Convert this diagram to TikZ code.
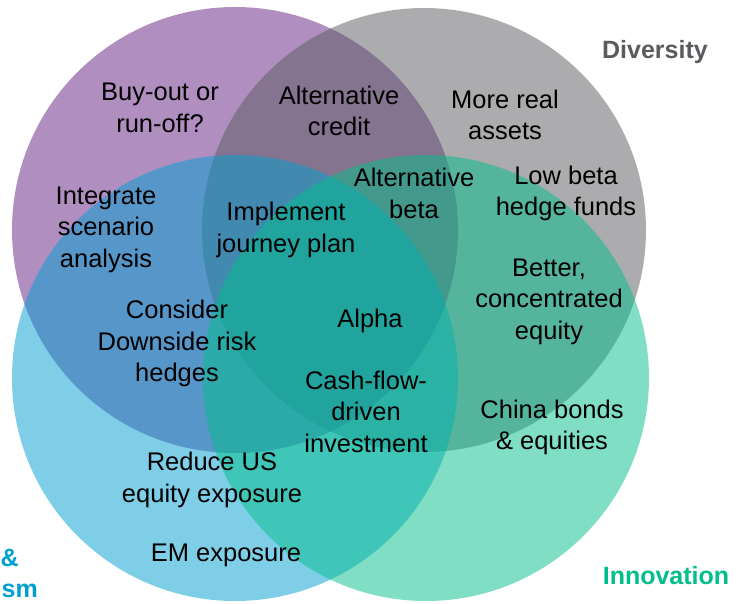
\documentclass[tikz,border=0pt]{standalone}
\usepackage{fontspec}
\setmainfont{Liberation Sans}
\definecolor{cpurple}{HTML}{631F83}
\definecolor{cgray}{HTML}{5B5B5F}
\definecolor{cblue}{HTML}{009FD1}
\definecolor{cgreen}{HTML}{00BF8B}
\tikzset{
  venn/.style={fill opacity=0.5, draw=none},
  txt/.style={align=center, inner sep=0pt, font=\fontsize{25.5}{31.5}\selectfont, text=black},
  lbl/.style={inner sep=0pt, font=\fontsize{25}{31}\selectfont\bfseries}
}
\begin{document}
\begin{tikzpicture}[x=1pt,y=-1pt]
\useasboundingbox (0,0) rectangle (747,603);
\fill[white] (0,0) rectangle (747,603);
\fill[venn, cpurple] (235,230) circle (223);
\fill[venn, cgray] (424,230) circle (222);
\fill[venn, cblue] (235,378) circle (223);
\fill[venn, cgreen] (426,378) circle (223);

\node[txt] (buyout) at (160,108) {Buy-out or\\run-off?};
\node[txt] (altcredit) at (339,111) {Alternative\\credit};
\node[txt] (realassets) at (505,115) {More real\\assets};
\node[txt] (altbeta) at (414,193.5) {Alternative\\beta};
\node[txt] (lowbeta) at (566,193.5) {Low beta\\hedge funds};
\node[txt] (integrate) at (106,229.5) {Integrate\\scenario\\analysis};
\node[txt] (journey) at (286,230) {Implement\\journey plan};
\node[txt] (better) at (549,301.5) {Better,\\concentrated\\equity};
\node[txt] (consider) at (177,343.5) {Consider\\Downside risk\\hedges};
\node[txt] (alpha) at (370,320.5) {Alpha};
\node[txt] (cashflow) at (366,411.5) {Cash-flow-\\driven\\investment};
\node[txt] (china) at (552,427.5) {China bonds\\\& equities};
\node[txt] (reduce) at (212,480) {Reduce US\\equity exposure};
\node[txt] (em) at (226,555.5) {EM exposure};

\node[lbl, text=cgray] (diversity) at (655,52.5) {Diversity};
\node[lbl, text=cgreen] (innovation) at (666,575.5) {Innovation};
\node[lbl, text=cblue, anchor=west] (amp) at (0.5,557.5) {\&};
\node[lbl, text=cblue, anchor=east] (sm) at (38,590.5) {sm};
\end{tikzpicture}
\end{document}
